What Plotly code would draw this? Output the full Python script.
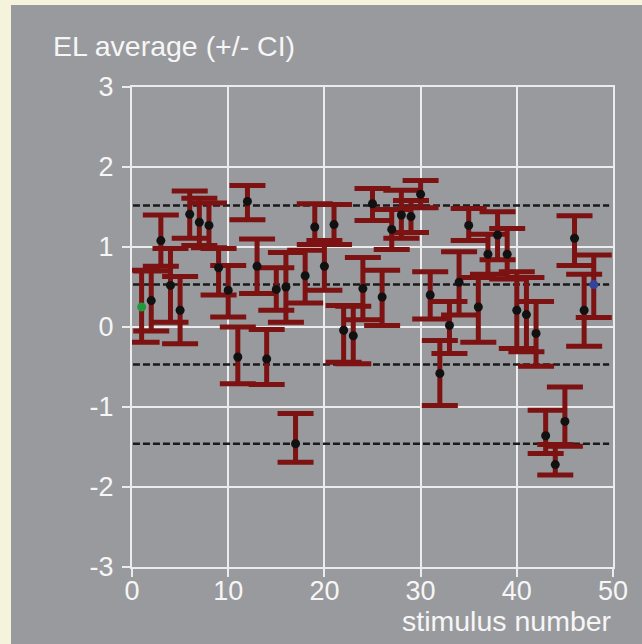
import plotly.graph_objects as go

# Per-stimulus EL averages and their confidence-interval bounds
stimulus = list(range(1, 49))
el_mean = [0.25, 0.33, 1.08, 0.52, 0.21, 1.41, 1.31, 1.27, 0.74, 0.46,
           -0.375, 1.57, 0.76, -0.40, 0.47, 0.50, -1.46, 0.64, 1.25, 0.76,
           1.28, -0.04, -0.11, 0.48, 1.54, 0.375, 1.22, 1.40, 1.38, 1.66,
           0.40, -0.58, 0.02, 0.56, 1.27, 0.25, 0.91, 1.15, 0.91, 0.21,
           0.155, -0.08, -1.36, -1.72, -1.18, 1.11, 0.21, 0.53]
ci_low = [-0.19, -0.05, 0.76, 0.06, -0.21, 1.11, 1.02, 0.99, 0.40, 0.125,
          -0.71, 1.34, 0.42, -0.72, 0.21, 0.06, -1.69, 0.30, 1.03, 0.46,
          1.03, -0.44, -0.46, 0.09, 1.33, 0.02, 0.97, 1.11, 1.18, 1.49,
          0.10, -0.98, -0.33, 0.15, 1.08, -0.19, 0.66, 0.84, 0.60, -0.27,
          -0.31, -0.49, -1.58, -1.85, -1.49, 0.77, -0.24, 0.12]
ci_high = [0.71, 0.70, 1.40, 0.98, 0.63, 1.70, 1.61, 1.55, 0.98, 0.77,
           0.0, 1.77, 1.10, -0.03, 0.74, 0.93, -1.08, 0.96, 1.54, 1.08,
           1.53, 0.27, 0.26, 0.87, 1.73, 0.71, 1.47, 1.71, 1.58, 1.83,
           0.69, -0.17, 0.32, 0.94, 1.48, 0.62, 1.16, 1.44, 1.23, 0.69,
           0.62, 0.32, -1.04, -1.47, -0.75, 1.39, 0.66, 0.90]

# Category boundaries shown as dashed reference lines
thresholds = [1.52, 0.53, -0.47, -1.46]
threshold_span = [0.1, 49.6]

x_ticks = [0, 10, 20, 30, 40, 50]
x_tick_text = ["0", "10", "20", "30", "40", "50"]
y_ticks = [-3, -2, -1, 0, 1, 2, 3]
y_tick_text = ["-3", "-2", "-1", "0", "1", "2", "3"]

W, H = 642, 644
ML, MR, MT, MB = 132, 29, 87, 77
PW, PH = W - ML - MR, H - MT - MB

GRAY = "#999a9e"
CREAM = "#f6f3dc"
LIGHT = "#ececec"
TXT = "#f6f6f6"
FONT = "Liberation Sans, Arial, sans-serif"


def px_to_paper_x(px):
    return (px - ML) / PW


def px_to_paper_y(py):
    return (H - MB - py) / PH


marker_colors = ["#1f9a3a" if s == stimulus[0] else
                 "#34449c" if s == stimulus[-1] else "#111111"
                 for s in stimulus]

fig = go.Figure()

for t in thresholds:
    fig.add_trace(go.Scatter(
        x=threshold_span, y=[t, t], mode="lines",
        line=dict(color="#1a1a1a", width=2.5, dash="7px,3px"),
        hoverinfo="skip", showlegend=False))

fig.add_trace(go.Scatter(
    x=stimulus, y=el_mean, mode="markers",
    marker=dict(color=marker_colors, size=9, line=dict(width=0)),
    error_y=dict(type="data", symmetric=False,
                 array=[h - m for h, m in zip(ci_high, el_mean)],
                 arrayminus=[m - l for m, l in zip(el_mean, ci_low)],
                 color="#7c1212", thickness=5, width=18),
    showlegend=False))

axis_common = dict(
    showgrid=True, gridcolor=LIGHT, gridwidth=2,
    showline=True, linecolor=LIGHT, linewidth=2, mirror=True,
    ticks="outside", ticklen=8, tickwidth=2, tickcolor=LIGHT,
    zeroline=False,
    tickfont=dict(family=FONT, size=27, color=TXT),
)

fig.update_xaxes(range=[0, 50], tickvals=x_ticks, ticktext=x_tick_text,
                 ticklabelstandoff=-9, **axis_common)
fig.update_yaxes(range=[-3, 3], tickvals=y_ticks, ticktext=y_tick_text,
                 ticklabelstandoff=3, **axis_common)

fig.add_shape(type="rect", xref="paper", yref="paper", layer="below",
              x0=px_to_paper_x(11), x1=px_to_paper_x(W + 5),
              y0=px_to_paper_y(H + 5), y1=px_to_paper_y(5),
              fillcolor=GRAY, line=dict(width=0))

fig.add_annotation(text="EL average (+/- CI)", xref="paper", yref="paper",
                   x=px_to_paper_x(51), y=px_to_paper_y(46),
                   xanchor="left", yanchor="middle", showarrow=False,
                   font=dict(family=FONT, size=28.5, color=TXT))
fig.add_annotation(text="stimulus number", xref="paper", yref="paper",
                   x=px_to_paper_x(614), y=px_to_paper_y(621),
                   xanchor="right", yanchor="middle", showarrow=False,
                   font=dict(family=FONT, size=28.5, color=TXT))

fig.update_layout(
    width=W, height=H,
    margin=dict(l=ML, r=MR, t=MT, b=MB, pad=0),
    paper_bgcolor=CREAM, plot_bgcolor=GRAY,
    font=dict(family=FONT, color=TXT),
)

fig.write_html("out.html")
